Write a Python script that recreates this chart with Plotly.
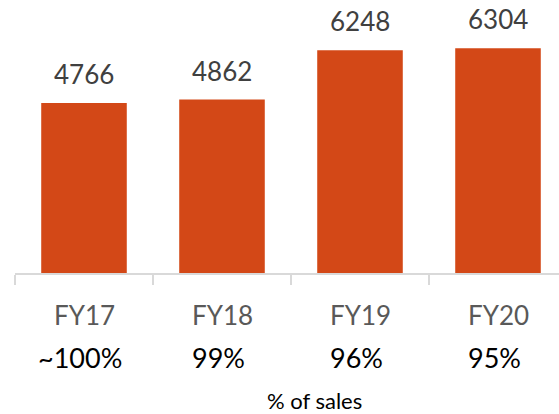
import plotly.graph_objects as go

categories = ["FY17", "FY18", "FY19", "FY20"]
values = [4766, 4862, 6248, 6304]
pct_labels = ["~100%", "99%", "96%", "95%"]
footer = "% of sales"

BAR = "#D34817"
FONT = "Lato"

fig = go.Figure()
fig.add_trace(go.Bar(
    x=categories, y=values, marker_color=BAR, marker_line_width=0,
    width=0.62, hoverinfo="skip",
))

ann = []
for c, v in zip(categories, values):
    ann.append(dict(x=c, y=v, xref="x", yref="y", text=str(v), showarrow=False,
                    yanchor="middle", yshift=29,
                    font=dict(family=FONT, size=26, color="#404040")))
for c in categories:
    ann.append(dict(x=c, y=0, xref="x", yref="paper", text=c, showarrow=False,
                    yanchor="middle", yshift=-42,
                    font=dict(family=FONT, size=26, color="#595959")))
for c, p in zip(categories, pct_labels):
    ann.append(dict(x=c, y=0, xref="x", yref="paper", text=p, showarrow=False,
                    yanchor="middle", yshift=-84, xshift=-4,
                    font=dict(family=FONT, size=27, color="#000000")))
ann.append(dict(x=0.551, y=0, xref="paper", yref="paper", text=footer, showarrow=False,
                yanchor="middle", yshift=-127,
                font=dict(family=FONT, size=22, color="#000000")))

fig.update_layout(
    width=559, height=414,
    margin=dict(l=15, r=0, t=0, b=141),
    paper_bgcolor="white", plot_bgcolor="white",
    showlegend=False,
    annotations=ann,
    xaxis=dict(type="category", range=[-0.5, 3.442], showgrid=False,
               showline=True, linecolor="#D9D9D9", linewidth=1.5,
               ticks="outside", tickson="boundaries", ticklen=10,
               tickcolor="#D9D9D9", tickwidth=1.5, showticklabels=False),
    yaxis=dict(range=[0, 7654], visible=False, showgrid=False, zeroline=False),
)

fig.write_html("out.html", config={"displayModeBar": False},
               post_script="document.body.style.margin='0';document.body.style.overflow='hidden';")
